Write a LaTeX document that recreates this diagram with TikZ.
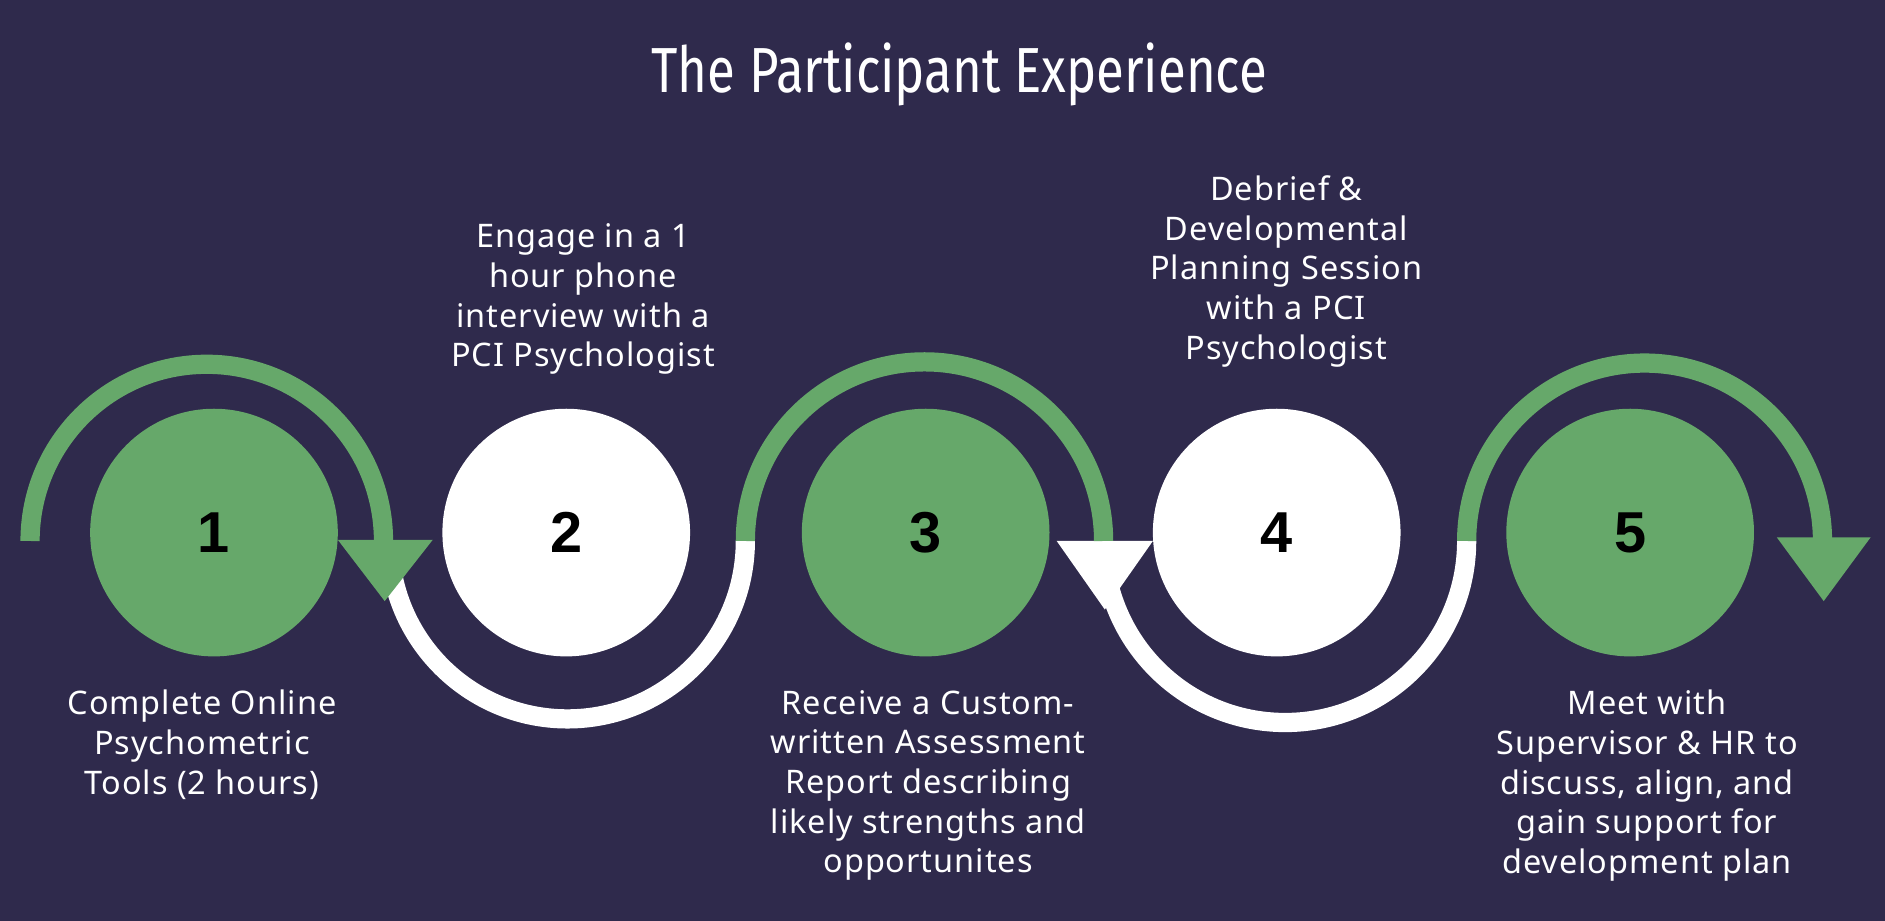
\documentclass[tikz,border=0pt]{standalone}
\usepackage{fontspec}
\setmainfont{Noto Sans}[LetterSpace=3]
\newfontfamily\titlefont{Fira Sans}
\newfontfamily\numfont{Liberation Sans}
\begin{document}
\begin{tikzpicture}[x=1pt,y=1pt,
  ring/.style={line width=16pt,line cap=butt},
  stepc/.style={circle,minimum size=206pt,inner sep=0pt,font=\numfont\bfseries\fontsize{48}{48}\selectfont,text=black},
  lbl/.style={align=center,text=white,font=\fontsize{27}{33}\selectfont,inner sep=0pt}]
\definecolor{bg}{HTML}{2F2A4C}
\definecolor{grn}{HTML}{66A86A}
\fill[bg] (0,0) rectangle (1568,-766);
\useasboundingbox (0,0) rectangle (1568,-766);
\node[text=white,font=\titlefont\fontsize{53}{53}\selectfont] (title) at (798,-62) {\scalebox{0.8}[1]{The Participant Experience}};
% circles
\node[stepc,fill=grn] (c1) at (178,-443) {1};
\node[stepc,fill=white] (c2) at (471,-443) {2};
\node[stepc,fill=grn] (c3) at (770,-443) {3};
\node[stepc,fill=white] (c4) at (1062,-443) {4};
\node[stepc,fill=grn] (c5) at (1356,-443) {5};
% white arcs
\draw[ring,white] (324,-450) arc[start angle=180,end angle=360,radius=148];
\draw[ring,white] (918,-450) arc[start angle=180,end angle=360,radius=151];
\fill[white] (879,-450) -- (959,-450) -- (919,-507) -- cycle;
% green arcs
\draw[ring,grn] (25,-450) arc[start angle=180,end angle=0,radius=147];
\fill[grn] (281,-449) -- (360,-449) -- (320,-500) -- cycle;
\draw[ring,grn] (620,-450) arc[start angle=180,end angle=0,radius=149];
\draw[ring,grn] (1220,-450) arc[start angle=180,end angle=0,radius=148];
\fill[grn] (1478,-447) -- (1556,-447) -- (1517,-500) -- cycle;
% labels
\node[lbl,anchor=north] (t1) at (168,-574) {Complete Online\\Psychometric\\Tools (2 hours)};
\node[lbl,anchor=north] (t2) at (485,-186) {Engage in a 1\\hour phone\\interview with a\\PCI Psychologist};
\node[lbl,anchor=north] (t3) at (772,-574) {Receive a Custom-\\written Assessment\\Report describing\\likely strengths and\\opportunites};
\node[lbl,anchor=north] (t4) at (1070,-146) {Debrief \&\\Developmental\\Planning Session\\with a PCI\\Psychologist};
\node[lbl,anchor=north] (t5) at (1370,-574) {Meet with\\Supervisor \& HR to\\discuss, align, and\\gain support for\\development plan};
\end{tikzpicture}
\end{document}
